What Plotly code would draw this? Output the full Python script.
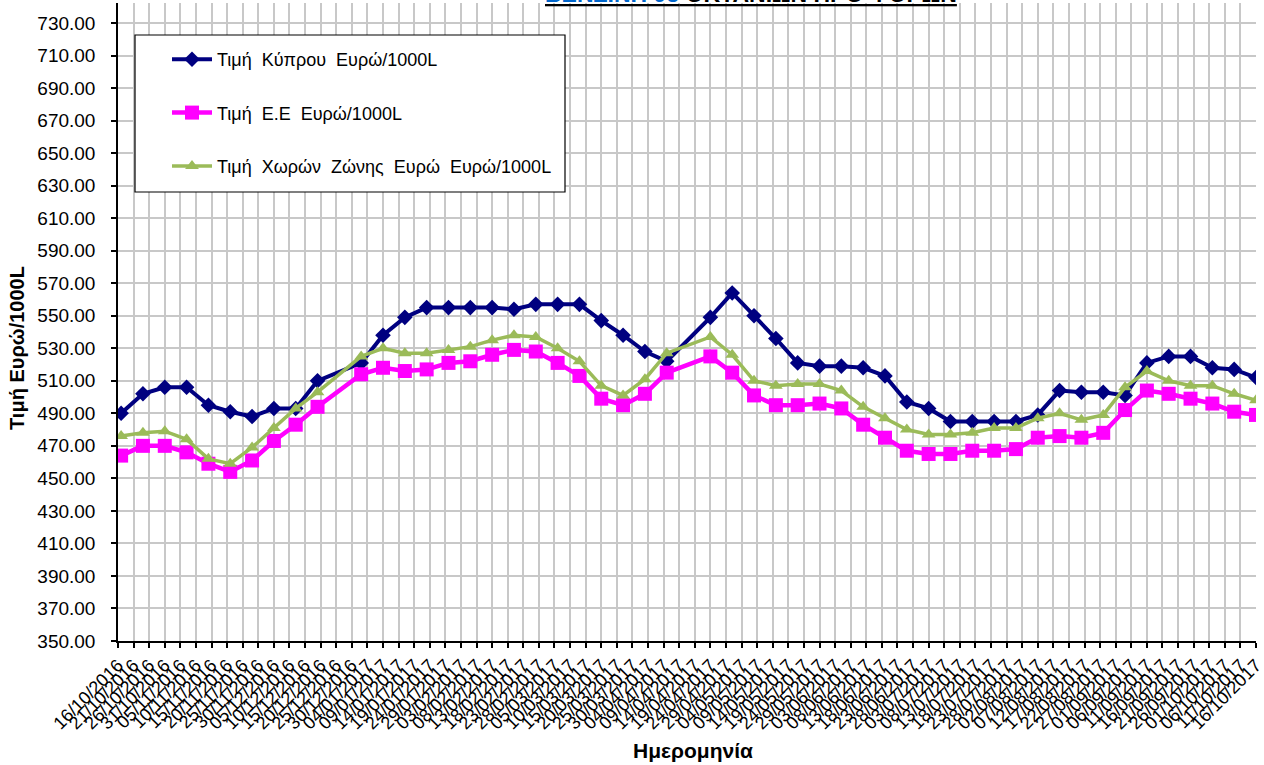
import plotly.graph_objects as go

# ---------------- data ----------------
dates = [
    "2016-10-17", "2016-10-24", "2016-10-31", "2016-11-07", "2016-11-14", "2016-11-21",
    "2016-11-28", "2016-12-05", "2016-12-12", "2016-12-19",
    "2017-01-02", "2017-01-09", "2017-01-16", "2017-01-23", "2017-01-30", "2017-02-06",
    "2017-02-13", "2017-02-20", "2017-02-27", "2017-03-06", "2017-03-13", "2017-03-20",
    "2017-03-27", "2017-04-03", "2017-04-10",
    "2017-04-24", "2017-05-01", "2017-05-08", "2017-05-15", "2017-05-22", "2017-05-29",
    "2017-06-05", "2017-06-12", "2017-06-19", "2017-06-26", "2017-07-03", "2017-07-10",
    "2017-07-17", "2017-07-24", "2017-07-31", "2017-08-07", "2017-08-14", "2017-08-21",
    "2017-08-28", "2017-09-04", "2017-09-11", "2017-09-18", "2017-09-25", "2017-10-02",
    "2017-10-09", "2017-10-16",
]

cyprus = [
    490, 502, 506, 506, 495, 491, 488, 493, 493, 510,
    521, 538, 549, 555, 555, 555, 555, 554, 557, 557, 557, 547, 538, 528, 522,
    549, 564, 550, 536, 521, 519, 519, 518, 513, 497, 493, 485, 485, 485, 485,
    489, 504, 503, 503, 501, 521, 525, 525, 518, 517, 512,
]

eu = [
    464, 470, 470, 466, 459, 454, 461, 473, 483, 494,
    514, 518, 516, 517, 521, 522, 526, 529, 528, 521, 513, 499, 495, 502, 515,
    525, 515, 501, 495, 495, 496, 493, 483, 475, 467, 465, 465, 467, 467, 468,
    475, 476, 475, 478, 492, 504, 502, 499, 496, 491, 489,
]

euro_zone = [
    476, 478, 479, 474, 462, 459, 469, 481, 493, 503,
    525, 530, 527, 527, 529, 531, 535, 538, 537, 530, 522, 507, 501, 511, 527,
    537, 526, 510, 507, 508, 508, 504, 494, 487, 480, 477, 477, 478, 481, 481,
    487, 490, 486, 489, 506, 516, 510, 507, 507, 502, 498,
]

series_names = [
    "Τιμή  Κύπρου  Ευρώ/1000L",
    "Τιμή  Ε.Ε  Ευρώ/1000L",
    "Τιμή  Χωρών  Ζώνης  Ευρώ  Ευρώ/1000L",
]

x_start, x_end = "2016-10-16", "2017-10-16"
y_min, y_max = 350, 742.3

# ---------------- layout helpers ----------------
W, H = 1264, 765
L, R, T, B = 118, 8, 3, 124
PW, PH = W - L - R, H - T - B
FONT = "Liberation Sans, Arial, sans-serif"


def px_x(px):
    return (px - L) / PW


def px_y(py):
    return 1 - (py - T) / PH


fig = go.Figure()

styles = [
    dict(color="#000080", symbol="diamond", size=12, width=4),
    dict(color="#FF00FF", symbol="square", size=14, width=4.5),
    dict(color="#9BBB59", symbol="triangle-up", size=12, width=3.5),
]

for name, vals, st, grp in zip(series_names, [cyprus, eu, euro_zone], styles, ["a", "b", "c"]):
    fig.add_trace(go.Scatter(
        x=dates, y=vals, name=name, mode="lines+markers", legendgroup=grp,
        line=dict(color=st["color"], width=st["width"]),
        marker=dict(symbol=st["symbol"], size=st["size"], color=st["color"],
                    line=dict(width=0)),
    ))

fig.update_layout(
    width=W, height=H,
    margin=dict(l=L, r=R, t=T, b=B, pad=0, autoexpand=False),
    paper_bgcolor="white", plot_bgcolor="white",
    font=dict(family=FONT, color="black"),
    showlegend=True,
    legend=dict(
        x=px_x(167), y=px_y(41), xanchor="left", yanchor="top",
        bgcolor="rgba(0,0,0,0)", borderwidth=0,
        font=dict(family=FONT, size=18, color="black"),
        itemwidth=40, tracegroupgap=27,
    ),
    xaxis=dict(
        type="date", range=[x_start, x_end], automargin=False,
        tick0=x_start, dtick=5 * 86400000, tickformat="%d/%m/%Y",
        tickangle=-45, tickfont=dict(family=FONT, size=18, color="black"),
        ticklabeloverflow="allow",
        showgrid=True, gridcolor="#C8C8C8", gridwidth=1.5,
        showline=True, linecolor="black", linewidth=1.5,
        ticks="outside", ticklen=5, tickcolor="black", tickwidth=1.5,
        zeroline=False,
    ),
    yaxis=dict(
        range=[y_min, y_max], tick0=350, dtick=20, tickformat=".2f", automargin=False,
        tickfont=dict(family=FONT, size=19, color="black"), ticklabelstandoff=12,
        ticklabeloverflow="allow",
        showgrid=True, gridcolor="#C8C8C8", gridwidth=1.5,
        showline=True, linecolor="black", linewidth=1.5,
        ticks="outside", ticklen=5, tickcolor="black", tickwidth=1.5,
        zeroline=False,
    ),
    shapes=[
        dict(type="rect", xref="paper", yref="paper",
             x0=px_x(135), x1=px_x(565), y0=px_y(192), y1=px_y(35),
             line=dict(color="black", width=1.2), fillcolor="white", layer="above"),
    ],
    annotations=[
        dict(text="<b>Τιμή Ευρώ/1000L</b>", xref="paper", yref="paper",
             x=px_x(17), y=px_y(348), xanchor="center", yanchor="middle",
             textangle=-90, showarrow=False,
             font=dict(family=FONT, size=20, color="black")),
        dict(text="<b>Ημερομηνία</b>", xref="paper", yref="paper",
             x=px_x(693), y=px_y(750), xanchor="center", yanchor="middle",
             showarrow=False, font=dict(family=FONT, size=21, color="black")),
        dict(text="<b><u><span style='color:#0066CC'>ΒΕΝΖΙΝΗ 95</span> ΟΚΤΑΝΙΩΝ ΠΡΟ ΦΟΡΩΝ</u></b>",
             xref="paper", yref="paper", x=px_x(751), y=px_y(9),
             xanchor="center", yanchor="bottom",
             showarrow=False, font=dict(family=FONT, size=23, color="black")),
    ],
)

fig.write_html(
    "out.html",
    config={"displayModeBar": False},
    post_script="document.body.style.margin='0px';document.body.style.overflow='hidden';",
)
